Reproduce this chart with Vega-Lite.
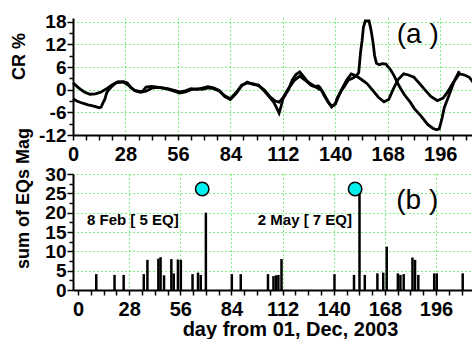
{
  "$schema": "https://vega.github.io/schema/vega-lite/v6.json",
  "padding": {"left": 10, "top": 12, "right": 0, "bottom": 0},
  "background": "white",
  "bounds": "flush",
  "spacing": 39,
  "config": {
    "view": {"stroke": null},
    "axis": {
      "domainColor": "black", "domainWidth": 2, "tickColor": "black", "tickWidth": 1.5,
      "labelFont": "Liberation Sans", "labelFontWeight": "bold", "labelColor": "black",
      "titleFont": "Liberation Sans", "titleFontWeight": "bold", "titleColor": "black",
      "gridColor": "#00e000", "gridDash": [1, 3], "gridWidth": 1,
      "labelOverlap": false, "labelFlush": false, "labelBound": false
    }
  },
  "vconcat": [
    {
      "width": 400, "height": 117,
      "layer": [
        {
          "data": {"values": [
            {"s":"A","day":0,"val":1.8},{"s":"A","day":3,"val":0.5},{"s":"A","day":6,"val":-0.6},{"s":"A","day":9,"val":-1.2},{"s":"A","day":12,"val":-1.1},{"s":"A","day":15,"val":-0.6},{"s":"A","day":18,"val":0.3},{"s":"A","day":21,"val":1.3},{"s":"A","day":24,"val":2.1},{"s":"A","day":27,"val":2.0},{"s":"A","day":30,"val":1.0},{"s":"A","day":33,"val":-0.3},{"s":"A","day":36,"val":-0.7},{"s":"A","day":39,"val":-0.4},{"s":"A","day":42,"val":0.4},{"s":"A","day":45,"val":0.6},{"s":"A","day":48,"val":0.4},{"s":"A","day":51,"val":0.1},{"s":"A","day":54,"val":-0.4},{"s":"A","day":57,"val":-0.9},{"s":"A","day":60,"val":-0.6},{"s":"A","day":63,"val":0},{"s":"A","day":66,"val":0.2},{"s":"A","day":69,"val":0.1},{"s":"A","day":72,"val":0.5},{"s":"A","day":75,"val":0.3},{"s":"A","day":78,"val":-0.3},{"s":"A","day":81,"val":-1.6},{"s":"A","day":84,"val":-2.4},{"s":"A","day":87,"val":-0.8},{"s":"A","day":90,"val":1.2},{"s":"A","day":93,"val":1.8},{"s":"A","day":96,"val":1.6},{"s":"A","day":99,"val":1.1},{"s":"A","day":102,"val":0.0},{"s":"A","day":105,"val":-1.8},{"s":"A","day":108,"val":-3.0},{"s":"A","day":110,"val":-3.3},{"s":"A","day":112,"val":-2.2},{"s":"A","day":115,"val":0.3},{"s":"A","day":118,"val":2.4},{"s":"A","day":121,"val":3.6},{"s":"A","day":124,"val":2.5},{"s":"A","day":127,"val":1.2},{"s":"A","day":130,"val":0.6},{"s":"A","day":133,"val":-0.3},{"s":"A","day":136,"val":-3.0},{"s":"A","day":138,"val":-4.4},{"s":"A","day":140,"val":-3.8},{"s":"A","day":143,"val":-0.3},{"s":"A","day":146,"val":2.5},{"s":"A","day":148.5,"val":4.2},{"s":"A","day":151,"val":3.7},{"s":"A","day":154,"val":2.7},{"s":"A","day":157,"val":1.6},{"s":"A","day":160,"val":-0.2},{"s":"A","day":163,"val":-2.0},{"s":"A","day":166,"val":-3.2},{"s":"A","day":168.5,"val":-2.6},{"s":"A","day":171,"val":0.2},{"s":"A","day":173.5,"val":2.7},{"s":"A","day":176.5,"val":4.2},{"s":"A","day":179,"val":3.9},{"s":"A","day":182,"val":3.3},{"s":"A","day":185,"val":1.6},{"s":"A","day":188,"val":-0.1},{"s":"A","day":191,"val":-1.8},{"s":"A","day":194.5,"val":-2.9},{"s":"A","day":197.5,"val":-2.2},{"s":"A","day":200,"val":-0.6},{"s":"A","day":202.7,"val":1.7},{"s":"A","day":206.2,"val":4.2},{"s":"A","day":209,"val":3.9},{"s":"A","day":211.5,"val":3.3},{"s":"A","day":213.5,"val":2.0},
            {"s":"B","day":0,"val":-2.4},{"s":"B","day":2,"val":-3.0},{"s":"B","day":4,"val":-3.4},{"s":"B","day":6,"val":-3.7},{"s":"B","day":8,"val":-4.0},{"s":"B","day":10,"val":-4.2},{"s":"B","day":12,"val":-4.5},{"s":"B","day":14,"val":-4.8},{"s":"B","day":15,"val":-4.6},{"s":"B","day":16,"val":-3.5},{"s":"B","day":17,"val":-2.5},{"s":"B","day":18,"val":-0.8},{"s":"B","day":19,"val":0},{"s":"B","day":21,"val":1.0},{"s":"B","day":23,"val":1.8},{"s":"B","day":25,"val":2.0},{"s":"B","day":27,"val":2.1},{"s":"B","day":29,"val":1.8},{"s":"B","day":31,"val":0.5},{"s":"B","day":33,"val":-0.2},{"s":"B","day":35,"val":-0.4},{"s":"B","day":37,"val":-0.5},{"s":"B","day":39,"val":0.7},{"s":"B","day":42,"val":0.9},{"s":"B","day":45,"val":0.7},{"s":"B","day":48,"val":0.5},{"s":"B","day":51,"val":0.2},{"s":"B","day":54,"val":-0.2},{"s":"B","day":57,"val":-0.6},{"s":"B","day":60,"val":-0.3},{"s":"B","day":63,"val":0.3},{"s":"B","day":66,"val":0.1},{"s":"B","day":69,"val":0.4},{"s":"B","day":72,"val":0.8},{"s":"B","day":75,"val":0.5},{"s":"B","day":78,"val":-0.2},{"s":"B","day":81,"val":-1.8},{"s":"B","day":84,"val":-2.6},{"s":"B","day":87,"val":-1.0},{"s":"B","day":90,"val":1.0},{"s":"B","day":93,"val":2.0},{"s":"B","day":96,"val":1.4},{"s":"B","day":99,"val":1.2},{"s":"B","day":102,"val":-0.3},{"s":"B","day":105,"val":-2.0},{"s":"B","day":107,"val":-3.2},{"s":"B","day":108.5,"val":-4.6},{"s":"B","day":110,"val":-6.2},{"s":"B","day":111,"val":-4.5},{"s":"B","day":112,"val":-2.5},{"s":"B","day":115,"val":0},{"s":"B","day":117,"val":2.5},{"s":"B","day":119,"val":4.0},{"s":"B","day":121,"val":4.7},{"s":"B","day":123,"val":3.5},{"s":"B","day":125,"val":2.3},{"s":"B","day":127,"val":1.5},{"s":"B","day":129,"val":0.9},{"s":"B","day":131,"val":1.0},{"s":"B","day":132,"val":0.5},{"s":"B","day":134,"val":-1.5},{"s":"B","day":136,"val":-3.2},{"s":"B","day":138,"val":-4.6},{"s":"B","day":140,"val":-3.8},{"s":"B","day":141,"val":-2.2},{"s":"B","day":143,"val":-0.5},{"s":"B","day":145,"val":1.0},{"s":"B","day":147,"val":2.6},{"s":"B","day":149,"val":3.0},{"s":"B","day":151,"val":3.6},{"s":"B","day":152.5,"val":4.5},{"s":"B","day":153.5,"val":10},{"s":"B","day":154.3,"val":13},{"s":"B","day":155,"val":16.5},{"s":"B","day":156,"val":18.2},{"s":"B","day":158,"val":18.2},{"s":"B","day":159,"val":16},{"s":"B","day":160,"val":13},{"s":"B","day":161,"val":9},{"s":"B","day":162,"val":7},{"s":"B","day":163.5,"val":6.6},{"s":"B","day":165,"val":6.9},{"s":"B","day":167,"val":6.8},{"s":"B","day":169.5,"val":5.3},{"s":"B","day":171.5,"val":3.6},{"s":"B","day":173.3,"val":1.7},{"s":"B","day":175,"val":0.2},{"s":"B","day":177,"val":-1.4},{"s":"B","day":180,"val":-3.3},{"s":"B","day":182.2,"val":-5.0},{"s":"B","day":185.8,"val":-7.0},{"s":"B","day":189.3,"val":-9.2},{"s":"B","day":192,"val":-10.2},{"s":"B","day":194,"val":-10.6},{"s":"B","day":195.5,"val":-10.4},{"s":"B","day":197,"val":-7.5},{"s":"B","day":198.2,"val":-4.7},{"s":"B","day":200.9,"val":-1.2},{"s":"B","day":203.5,"val":2.3},{"s":"B","day":206.2,"val":4.9}
          ]},
          "mark": {"type": "line", "color": "black", "strokeWidth": 2.8},
          "encoding": {
            "x": {"field": "day", "type": "quantitative", "title": null,
              "scale": {"domain": [0, 213.5], "nice": false, "zero": false},
              "axis": {"title": null, "tickCount": 200, "values": [0,7,14,21,28,35,42,49,56,63,70,77,84,91,98,105,112,119,126,133,140,147,154,161,168,175,182,189,196,203,210],
                "labelExpr": "datum.value % 28 === 0 ? toString(datum.value) : ''",
                "labelFontSize": 20, "tickSize": 5, "labelPadding": 4, "labelOverlap": false,
                "grid": true,
                "gridOpacity": {"condition": {"test": "datum.value % 28 === 0 && datum.value > 0", "value": 1}, "value": 0}}},
            "y": {"field": "val", "type": "quantitative", "title": "CR %",
              "scale": {"domain": [-12, 19], "nice": false, "zero": false},
              "axis": {"title": "CR %", "titleFontSize": 18, "titleX": -54, "titleY": 38, "titleBaseline": "middle", "titleAngle": -90, "titleAlign": "center",
                "tickCount": 200, "values": [-12,-9,-6,-3,0,3,6,9,12,15,18],
                "labelExpr": "datum.value % 6 === 0 ? toString(datum.value) : ''",
                "labelFontSize": 19, "labelPadding": 1, "labelOverlap": false,
                "tickSize": {"condition": {"test": "datum.value % 6 === 0", "value": 6}, "value": 4},
                "grid": true,
                "gridOpacity": {"condition": {"test": "datum.value % 6 === 0 && datum.value > -12", "value": 1}, "value": 0}}},
            "detail": {"field": "s", "type": "nominal"}
          }
        },
        {
          "data": {"values": [{"day": 184, "val": 14.5, "label": "(a )"}]},
          "mark": {"type": "text", "font": "Liberation Sans", "fontSize": 28, "color": "black", "align": "center", "baseline": "middle"},
          "encoding": {
            "x": {"field": "day", "type": "quantitative", "title": null},
            "y": {"field": "val", "type": "quantitative", "title": "CR %"},
            "text": {"field": "label"}
          }
        }
      ]
    },
    {
      "width": 400, "height": 116,
      "layer": [
        {
          "data": {"values": [
            {"day":10,"mag":4.1},{"day":20,"mag":3.9},{"day":25,"mag":3.9},{"day":36,"mag":4.1},{"day":38,"mag":7.8},{"day":44,"mag":8.1},{"day":45.2,"mag":8.5},{"day":47.1,"mag":3.8},{"day":51.1,"mag":8},{"day":52.4,"mag":4.3},{"day":54.7,"mag":7.9},{"day":56.3,"mag":7.8},{"day":62.7,"mag":4.1},{"day":65.7,"mag":4.5},{"day":67.2,"mag":3.9},{"day":70,"mag":20},{"day":84.2,"mag":4.1},{"day":89.1,"mag":4.1},{"day":104,"mag":4.1},{"day":107,"mag":3.6},{"day":108.4,"mag":3.8},{"day":109.7,"mag":3.9},{"day":111.4,"mag":8},{"day":140.4,"mag":4.1},{"day":151.1,"mag":3.9},{"day":154.1,"mag":25},{"day":157,"mag":3.9},{"day":163.9,"mag":4.3},{"day":167.1,"mag":4.5},{"day":169,"mag":11.2},{"day":175.1,"mag":4.3},{"day":176.5,"mag":3.9},{"day":178.3,"mag":4.1},{"day":183.1,"mag":8.4},{"day":184.5,"mag":7.8},{"day":186.3,"mag":3.9},{"day":195,"mag":4.3},{"day":196.4,"mag":4.3},{"day":210.6,"mag":4.3}
          ]},
          "mark": {"type": "bar", "color": "black", "size": 2.5},
          "encoding": {
            "x": {"field": "day", "type": "quantitative", "title": "day from 01, Dec, 2003",
              "scale": {"domain": [0, 213.5], "nice": false, "zero": false},
              "axis": {"title": "day from 01, Dec, 2003", "titleFontSize": 20, "titleX": 217, "titleAlign": "center", "titleY": 45, "titleBaseline": "alphabetic",
                "tickCount": 200, "values": [0,7,14,21,28,35,42,49,56,63,70,77,84,91,98,105,112,119,126,133,140,147,154,161,168,175,182,189,196,203,210],
                "labelExpr": "datum.value % 28 === 0 ? toString(datum.value) : ''",
                "labelFontSize": 20, "tickSize": 5, "labelPadding": 4, "labelOverlap": false,
                "grid": true,
                "gridOpacity": {"condition": {"test": "datum.value % 28 === 0 && datum.value > 0", "value": 1}, "value": 0}}},
            "y": {"field": "mag", "type": "quantitative", "title": "sum of EQs Mag",
              "scale": {"domain": [0, 30], "nice": false, "zero": false},
              "axis": {"title": "sum of EQs Mag", "titleFontSize": 18, "titleX": -50, "titleY": 24, "titleBaseline": "middle", "titleAngle": -90, "titleAlign": "center",
                "tickCount": 200, "values": [0,2.5,5,7.5,10,12.5,15,17.5,20,22.5,25,27.5,30],
                "labelExpr": "datum.value % 5 === 0 ? toString(datum.value) : ''",
                "labelFontSize": 19, "labelPadding": 1, "labelOverlap": false,
                "tickSize": {"condition": {"test": "datum.value % 5 === 0", "value": 6}, "value": 4},
                "grid": true,
                "gridOpacity": {"condition": {"test": "datum.value % 5 === 0 && datum.value > 0", "value": 1}, "value": 0}}}
          }
        },
        {
          "data": {"values": [{"day": 68, "mag": 26.1}, {"day": 151.7, "mag": 26.1}]},
          "mark": {"type": "point", "shape": "circle", "filled": true, "size": 180, "fill": "#00f0f0", "stroke": "black", "strokeWidth": 1.5, "opacity": 1},
          "encoding": {
            "x": {"field": "day", "type": "quantitative", "title": "day from 01, Dec, 2003"},
            "y": {"field": "mag", "type": "quantitative", "title": "sum of EQs Mag"}
          }
        },
        {
          "data": {"values": [
            {"day": 30, "mag": 18.1, "label": "8 Feb [ 5 EQ]"},
            {"day": 124.2, "mag": 18.1, "label": "2 May [ 7 EQ]"}
          ]},
          "mark": {"type": "text", "font": "Liberation Sans", "fontSize": 15, "fontWeight": "bold", "color": "black", "align": "center", "baseline": "middle"},
          "encoding": {
            "x": {"field": "day", "type": "quantitative", "title": "day from 01, Dec, 2003"},
            "y": {"field": "mag", "type": "quantitative", "title": "sum of EQs Mag"},
            "text": {"field": "label"}
          }
        },
        {
          "data": {"values": [{"day": 185.7, "mag": 23, "label": "(b )"}]},
          "mark": {"type": "text", "font": "Liberation Sans", "fontSize": 28, "color": "black", "align": "center", "baseline": "middle"},
          "encoding": {
            "x": {"field": "day", "type": "quantitative", "title": "day from 01, Dec, 2003"},
            "y": {"field": "mag", "type": "quantitative", "title": "sum of EQs Mag"},
            "text": {"field": "label"}
          }
        }
      ]
    }
  ]
}
